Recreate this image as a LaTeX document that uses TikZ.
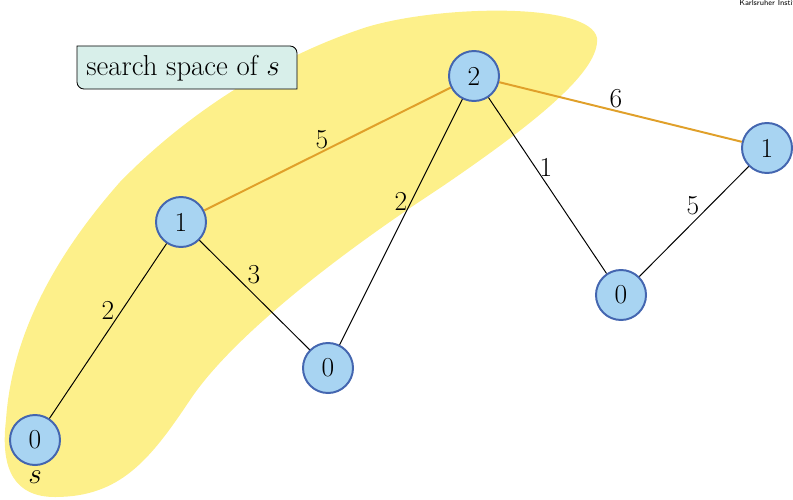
\documentclass[tikz,border=0pt]{standalone}
\usetikzlibrary{calc}
\definecolor{blobyellow}{HTML}{FDF08A}
\definecolor{nodefill}{HTML}{A8D4F2}
\definecolor{nodeline}{HTML}{4466B0}
\definecolor{orangeedge}{HTML}{E0A02A}
\definecolor{boxfill}{HTML}{D8EFEA}
\begin{document}
\begin{tikzpicture}[x=0.025cm,y=0.025cm,
  vert/.style={circle, draw=nodeline, fill=nodefill, line width=1.4pt, minimum size=1.25cm, inner sep=0pt, font=\fontsize{19.5}{23}\selectfont},
  lbl/.style={font=\fontsize{19.5}{23}\selectfont, inner sep=0pt},
  plain/.style={draw=black, line width=0.7pt},
  short/.style={draw=orangeedge, line width=1.4pt}
]
\useasboundingbox (0,-499) rectangle (793,0);
% search space blob
\fill[blobyellow] (55,-497) .. controls (15,-497) and (0,-470) .. (6,-420)
  .. controls (12,-330) and (60,-250) .. (120,-182)
  .. controls (190,-110) and (280,-55) .. (367,-27)
  .. controls (440,-5) and (590,-2) .. (597,-38)
  .. controls (600,-70) and (540,-120) .. (440,-188)
  .. controls (330,-260) and (230,-340) .. (190,-400)
  .. controls (150,-460) and (120,-497) .. (55,-497) -- cycle;
% caption box
\coordinate (bnw) at (77,-46);
\coordinate (bne) at (297,-46);
\coordinate (bse) at (297,-89);
\coordinate (bsw) at (77,-89);
\draw[fill=boxfill, line width=0.6pt] (bnw) -- ([xshift=-5pt]bne) arc[start angle=90, end angle=0, radius=5pt]
  -- (bse) -- ([xshift=5pt]bsw) arc[start angle=270, end angle=180, radius=5pt] -- cycle;
\node[anchor=west, inner sep=0pt] (boxlabel) at (86,-68) {\fontsize{20.5}{24}\selectfont search space of $s$};
% vertices
\node[vert] (s) at (35,-440) {0};
\node[vert] (a) at (181,-222) {1};
\node[vert] (b) at (328,-368) {0};
\node[vert] (c) at (474,-76) {2};
\node[vert] (d) at (767,-148) {1};
\node[vert] (e) at (621,-295) {0};
% edges
\draw[plain] (s) -- (a);
\draw[plain] (a) -- (b);
\draw[plain] (b) -- (c);
\draw[plain] (c) -- (e);
\draw[plain] (e) -- (d);
\draw[short] (a) -- (c);
\draw[short] (c) -- (d);
% edge labels
\node[lbl] (l1) at (108,-310) {2};
\node[lbl] (l2) at (254,-275) {3};
\node[lbl] (l3) at (322,-140) {5};
\node[lbl] (l4) at (401,-201) {2};
\node[lbl] (l5) at (546,-167) {1};
\node[lbl] (l6) at (616,-99) {6};
\node[lbl] (l7) at (693,-206) {5};
\node[lbl] (slbl) at (35,-477) {$s$};
% footer text
\node[anchor=west, inner sep=0pt, font=\sffamily\fontsize{5.6}{6}\selectfont] (kit) at (739,-4) {Karlsruher Institut f\"ur Technologie};
\end{tikzpicture}
\end{document}
